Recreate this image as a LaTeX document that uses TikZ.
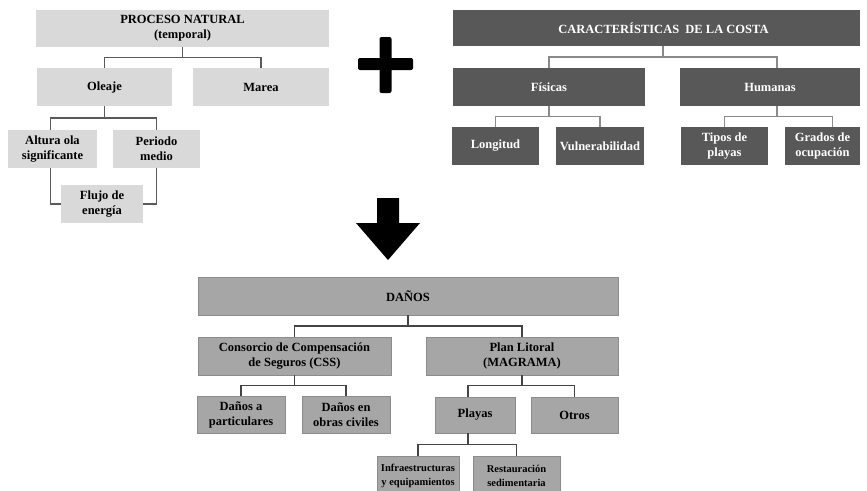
\documentclass[tikz,border=0pt]{standalone}
\usepackage{fontspec}
\setmainfont{Liberation Serif}
\usetikzlibrary{calc}
\definecolor{lfill}{HTML}{D9D9D9}
\definecolor{dfill}{HTML}{585858}
\definecolor{mfill}{HTML}{A6A6A6}
\definecolor{mdraw}{HTML}{8C8C8C}
\definecolor{lline}{HTML}{5A5A5A}
\definecolor{dline}{HTML}{8A8A8A}
\definecolor{bline}{HTML}{444444}
\tikzset{
  bx/.style={inner sep=0pt, align=center, font=\fontsize{12.5}{15}\selectfont\bfseries},
  lbox/.style={bx, fill=lfill, text=black},
  dbox/.style={bx, fill=dfill, text=white},
  mbox/.style={bx, fill=mfill, draw=mdraw, line width=0.8pt, text=black},
  sbox/.style={mbox, font=\fontsize{10.5}{14}\selectfont\bfseries},
  lconn/.style={draw=lline, line width=1.6pt},
  dconn/.style={draw=dline, line width=1.6pt},
  bconn/.style={draw=bline, line width=1.6pt},
}
\begin{document}
\begin{tikzpicture}[x=1pt,y=-1pt]
\clip (0,0) rectangle (867,490);
\fill[white] (0,0) rectangle (867,490);

% ---------- top left ----------
\node[lbox, minimum width=293pt, minimum height=37pt] (pn) at (182.5,28.5) {PROCESO NATURAL\\(temporal)};
\node[lbox, minimum width=135pt, minimum height=38pt] (ol) at (104.5,87) {Oleaje};
\node[lbox, minimum width=136pt, minimum height=38pt] (ma) at (261,87) {Marea};
\node[lbox, minimum width=89pt, minimum height=38pt] (al) at (52.5,149) {Altura ola\\significante};
\node[lbox, minimum width=87pt, minimum height=38pt] (pm) at (156.5,149) {Periodo\\medio};
\node[lbox, minimum width=82pt, minimum height=38pt] (fl) at (102,204) {Flujo de\\energía};

\coordinate (m1) at ($(pn.south)!0.5!(ol.north)$);
\draw[lconn] (pn.south) -- (pn.south |- m1);
\draw[lconn] (ol.north) |- (pn.south |- m1) -| (ma.north);
\coordinate (m2) at ($(ol.south)!0.5!(al.north)$);
\draw[lconn] (ol.south) -- (ol.south |- m2);
\draw[lconn] ([xshift=-2pt]al.north) |- (ol.south |- m2) -| (pm.north);
\draw[lconn] ([xshift=-2pt]al.south) |- (fl.west);
\draw[lconn] (pm.south) |- (fl.east);

% ---------- top right ----------
\node[dbox, minimum width=407pt, minimum height=36pt] (car) at (656.5,28) {\hspace*{14pt}CARACTERÍSTICAS\ \ DE LA COSTA};
\node[dbox, minimum width=192pt, minimum height=38pt] (fi) at (549,87) {Físicas};
\node[dbox, minimum width=180pt, minimum height=38pt] (hu) at (770,87) {Humanas};
\node[dbox, minimum width=87pt, minimum height=38pt] (lo) at (495.5,146) {Longitud};
\node[dbox, minimum width=88pt, minimum height=38pt] (vu) at (600,146) {Vulnerabilidad};
\node[dbox, minimum width=87pt, minimum height=38pt] (ti) at (724.5,146) {Tipos de\\playas};
\node[dbox, minimum width=75pt, minimum height=38pt] (gr) at (822.5,146) {Grados de\\ocupación};

\coordinate (m3) at ($(car.south)!0.5!(fi.north)$);
\draw[dconn] ([xshift=6.5pt]car.south) -- ([xshift=6.5pt]car.south |- m3);
\draw[dconn] (fi.north) |- ([xshift=6.5pt]car.south |- m3) -| ([xshift=7pt]hu.north);
\coordinate (m4) at ($(fi.south)!0.5!(lo.north)$);
\draw[dconn] (fi.south) -- (fi.south |- m4);
\draw[dconn] (lo.north) |- (fi.south |- m4) -| (vu.north);
\draw[dconn] ([xshift=7pt]hu.south) -- ([xshift=7pt]hu.south |- m4);
\draw[dconn] (ti.north) |- ([xshift=7pt]hu.south |- m4) -| ([xshift=10pt]gr.north);

% ---------- plus and arrow ----------
\fill[black, rounded corners=2pt] (358,58) rectangle (413,70);
\fill[black, rounded corners=2pt] (379.5,37) rectangle (391.5,93);
\fill[black] (377,198) -- (399,198) -- (399,223) -- (420,223) -- (388,260) -- (356,223) -- (377,223) -- cycle;

% ---------- bottom ----------
\node[mbox, minimum width=420pt, minimum height=38pt] (da) at (408,296) {DAÑOS};
\node[mbox, minimum width=193pt, minimum height=38pt] (co) at (294.5,356) {Consorcio de Compensación\\de Seguros (CSS)};
\node[mbox, minimum width=192pt, minimum height=38pt] (pl) at (522,356) {Plan Litoral\\(MAGRAMA)};
\node[mbox, minimum width=88pt, minimum height=37pt] (dp) at (241,414.5) {Daños a\\particulares};
\node[mbox, minimum width=88pt, minimum height=37pt] (dc) at (346,414.5) {Daños en\\obras civiles};
\node[mbox, minimum width=80pt, minimum height=36pt] (py) at (475,415) {Playas};
\node[mbox, minimum width=87pt, minimum height=36pt] (ot) at (574.5,415) {Otros};
\node[sbox, minimum width=82pt, minimum height=40pt] (inf) at (418,476) {Infraestructuras\\y equipamientos};
\node[sbox, minimum width=87pt, minimum height=40pt] (re) at (516.5,476) {Restauración\\sedimentaria};

\coordinate (m5) at ($(da.south)!0.5!(co.north)$);
\draw[bconn] (da.south) -- (da.south |- m5);
\draw[bconn] (co.north) |- (da.south |- m5) -| (pl.north);
\coordinate (m6) at ($(co.south)!0.5!(dp.north)$);
\draw[bconn] (co.south) -- (co.south |- m6);
\draw[bconn] (dp.north) |- (co.south |- m6) -| (dc.north);
\draw[bconn] (pl.south) -- (pl.south |- m6);
\draw[bconn] ([xshift=-7pt]py.north) |- (pl.south |- m6) -| (ot.north);
\coordinate (m7) at ($(py.south)!0.5!(inf.north)$);
\draw[bconn] ([xshift=-7pt]py.south) -- ([xshift=-7pt]py.south |- m7);
\draw[bconn] (inf.north) |- ([xshift=-7pt]py.south |- m7) -| (re.north);
\end{tikzpicture}
\end{document}
